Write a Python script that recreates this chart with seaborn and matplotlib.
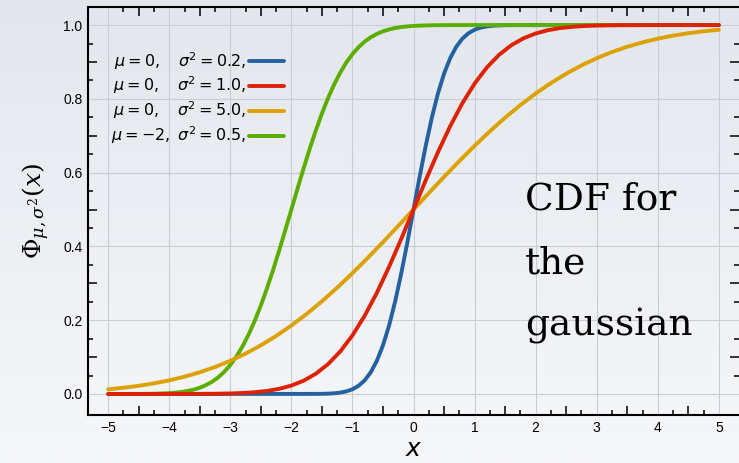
import numpy as np
import pandas as pd
import matplotlib
matplotlib.use("Agg")
import matplotlib.pyplot as plt
from matplotlib.colors import LinearSegmentedColormap
from matplotlib.lines import Line2D
import seaborn as sns

# ------------------------------------------------------------------
# values
# ------------------------------------------------------------------
# mu=0, sigma^2=0.2
x_blue = [-5.0, -1.6, -1.5, -1.4, -1.3, -1.2, -1.1, -1.0, -0.9, -0.8, -0.7, -0.6,
          -0.5, -0.4, -0.3, -0.2, -0.1, 0.0, 0.1, 0.2, 0.3, 0.4, 0.5, 0.6, 0.7,
          0.8, 0.9, 1.0, 1.1, 1.2, 1.3, 1.4, 1.5, 1.6, 5.0]
y_blue = [0.0, 0.0002, 0.0004, 0.0009, 0.0018, 0.0036, 0.0070, 0.0127, 0.0221,
          0.0368, 0.0588, 0.0899, 0.1318, 0.1855, 0.2511, 0.3274, 0.4115, 0.5,
          0.5885, 0.6726, 0.7489, 0.8145, 0.8682, 0.9101, 0.9412, 0.9632, 0.9779,
          0.9873, 0.9930, 0.9964, 0.9982, 0.9991, 0.9996, 0.9998, 1.0]

# mu=0, sigma^2=1.0
x_red = [-5.0, -4.0, -3.6, -3.4, -3.2, -3.0, -2.8, -2.6, -2.4, -2.2, -2.0, -1.8,
         -1.6, -1.4, -1.2, -1.0, -0.8, -0.6, -0.4, -0.2, 0.0, 0.2, 0.4, 0.6, 0.8,
         1.0, 1.2, 1.4, 1.6, 1.8, 2.0, 2.2, 2.4, 2.6, 2.8, 3.0, 3.2, 3.4, 3.6,
         4.0, 5.0]
y_red = [0.0, 0.0, 0.0002, 0.0003, 0.0007, 0.0013, 0.0026, 0.0047, 0.0082, 0.0139,
         0.0228, 0.0359, 0.0548, 0.0808, 0.1151, 0.1587, 0.2119, 0.2743, 0.3446,
         0.4207, 0.5, 0.5793, 0.6554, 0.7257, 0.7881, 0.8413, 0.8849, 0.9192,
         0.9452, 0.9641, 0.9772, 0.9861, 0.9918, 0.9953, 0.9974, 0.9987, 0.9993,
         0.9997, 0.9998, 1.0, 1.0]

# mu=0, sigma^2=5.0
x_orange = [-5.0, -4.75, -4.5, -4.25, -4.0, -3.75, -3.5, -3.25, -3.0, -2.75, -2.5,
            -2.25, -2.0, -1.75, -1.5, -1.25, -1.0, -0.75, -0.5, -0.25, 0.0, 0.25,
            0.5, 0.75, 1.0, 1.25, 1.5, 1.75, 2.0, 2.25, 2.5, 2.75, 3.0, 3.25, 3.5,
            3.75, 4.0, 4.25, 4.5, 4.75, 5.0]
y_orange = [0.0127, 0.0168, 0.0221, 0.0287, 0.0368, 0.0468, 0.0588, 0.0730, 0.0899,
            0.1094, 0.1318, 0.1572, 0.1855, 0.2169, 0.2511, 0.2880, 0.3274, 0.3687,
            0.4115, 0.4556, 0.5, 0.5444, 0.5885, 0.6313, 0.6726, 0.7120, 0.7489,
            0.7831, 0.8145, 0.8428, 0.8682, 0.8906, 0.9101, 0.9270, 0.9412, 0.9532,
            0.9632, 0.9713, 0.9779, 0.9832, 0.9873]

# mu=-2, sigma^2=0.5
x_green = [-5.0, -4.6, -4.4, -4.2, -4.0, -3.9, -3.8, -3.7, -3.6, -3.5, -3.4, -3.3,
           -3.2, -3.1, -3.0, -2.9, -2.8, -2.7, -2.6, -2.5, -2.4, -2.3, -2.2, -2.1,
           -2.0, -1.9, -1.8, -1.7, -1.6, -1.5, -1.4, -1.3, -1.2, -1.1, -1.0, -0.9,
           -0.8, -0.7, -0.6, -0.5, -0.4, -0.3, -0.2, -0.1, 0.0, 0.2, 0.4, 0.6,
           1.0, 5.0]
y_green = [0.0, 0.0001, 0.0003, 0.0009, 0.0023, 0.0036, 0.0054, 0.0081, 0.0118,
           0.0169, 0.0239, 0.0330, 0.0449, 0.0599, 0.0787, 0.1015, 0.1289, 0.1611,
           0.1981, 0.2398, 0.2859, 0.3357, 0.3887, 0.4438, 0.5, 0.5562, 0.6113,
           0.6643, 0.7141, 0.7602, 0.8019, 0.8389, 0.8711, 0.8985, 0.9213, 0.9401,
           0.9551, 0.9670, 0.9761, 0.9831, 0.9882, 0.9919, 0.9946, 0.9964, 0.9977,
           0.9991, 0.9997, 0.9999, 1.0, 1.0]

legend_labels = [r"$\mu = 0,\quad \sigma^2 = 0.2,$",
                 r"$\mu = 0,\quad \sigma^2 = 1.0,$",
                 r"$\mu = 0,\quad \sigma^2 = 5.0,$",
                 r"$\mu = -2,\;\sigma^2 = 0.5,$"]

x_tick_pos = [-5.0, -4.5, -4.0, -3.5, -3.0, -2.5, -2.0, -1.5, -1.0, -0.5, 0.0,
              0.5, 1.0, 1.5, 2.0, 2.5, 3.0, 3.5, 4.0, 4.5, 5.0]
x_tick_labels = ["\u22125", "", "\u22124", "", "\u22123", "", "\u22122", "", "\u22121", "",
                 "0", "", "1", "", "2", "", "3", "", "4", "", "5"]
y_tick_pos = [0.0, 0.1, 0.2, 0.3, 0.4, 0.5, 0.6, 0.7, 0.8, 0.9, 1.0]
y_tick_labels = ["0.0", "", "0.2", "", "0.4", "", "0.6", "", "0.8", "", "1.0"]

colors = {"blue": "#2361a0", "red": "#de2206", "orange": "#dca104", "green": "#5bae00"}

# ------------------------------------------------------------------
# build long table
# ------------------------------------------------------------------
df = pd.concat([
    pd.DataFrame({"x": x_blue, "y": y_blue, "curve": "blue"}),
    pd.DataFrame({"x": x_red, "y": y_red, "curve": "red"}),
    pd.DataFrame({"x": x_orange, "y": y_orange, "curve": "orange"}),
    pd.DataFrame({"x": x_green, "y": y_green, "curve": "green"}),
], ignore_index=True)

sns.set_theme(style="ticks")
plt.rcParams["font.family"] = ["Liberation Sans", "DejaVu Sans"]
plt.rcParams["mathtext.fontset"] = "dejavusans"
plt.rcParams["axes.unicode_minus"] = True
for key in ["text.color", "axes.labelcolor", "xtick.color", "ytick.color",
            "xtick.labelcolor", "ytick.labelcolor"]:
    plt.rcParams[key] = "black"

fig = plt.figure(figsize=(7.39, 4.63), dpi=100)

# pale background wash
bg = fig.add_axes([0, 0, 1, 1], zorder=-10)
cmap = LinearSegmentedColormap.from_list("wash", ["#e3e7ed", "#f6f7f9"])
bg.imshow(np.linspace(0, 1, 256).reshape(-1, 1), aspect="auto", cmap=cmap,
          extent=[0, 1, 0, 1], origin="upper")
bg.axis("off")

ax = fig.add_axes([0.1191, 0.1037, 0.8809, 0.8812])
ax.set_facecolor("none")

# grid (integers / 0.2 steps only)
for gx in [-5, -4, -3, -2, -1, 0, 1, 2, 3, 4, 5]:
    ax.axvline(gx, color="#c9cdd4", lw=0.8, zorder=0.5)
for gy in [0.0, 0.2, 0.4, 0.6, 0.8, 1.0]:
    ax.axhline(gy, color="#c9cdd4", lw=0.8, zorder=0.5)

sns.lineplot(data=df, x="x", y="y", hue="curve",
             hue_order=["blue", "green", "orange", "red"],
             palette=colors, linewidth=2.8, estimator=None, legend=False, ax=ax)

handles = [Line2D([0], [0], color=colors[c], lw=2.8) for c in ["blue", "red", "orange", "green"]]
ax.legend(handles, legend_labels, loc="upper left", bbox_to_anchor=(0.035, 0.895),
          frameon=False, markerfirst=False, handlelength=2.2, handletextpad=0.2,
          labelspacing=0.2, borderpad=0, borderaxespad=0, fontsize=11.5)

ax.set_xlim(-5.33, 5.33)
ax.set_ylim(-0.057, 1.049)

ax.set_xticks(x_tick_pos, x_tick_labels)
ax.set_xticks([-4.75, -4.25, -3.75, -3.25, -2.75, -2.25, -1.75, -1.25, -0.75, -0.25,
               0.25, 0.75, 1.25, 1.75, 2.25, 2.75, 3.25, 3.75, 4.25, 4.75], minor=True)
ax.set_yticks(y_tick_pos, y_tick_labels)
ax.set_yticks([0.05, 0.15, 0.25, 0.35, 0.45, 0.55, 0.65, 0.75, 0.85, 0.95], minor=True)

ax.tick_params(which="both", direction="in", width=1.1, color="black",
               top=True, bottom=True, left=True, right=True)
ax.tick_params(which="major", length=6.5, labelsize=10, pad=4, labelcolor="black")
ax.tick_params(which="minor", length=3.6)

for t, v in zip(ax.xaxis.get_major_ticks(), x_tick_pos):
    if float(v).is_integer():
        t.tick1line.set_visible(False)
        t.tick2line.set_visible(False)
for t, v in zip(ax.yaxis.get_major_ticks(), y_tick_pos):
    if round(v * 10) % 2 == 0:
        t.tick1line.set_visible(False)
        t.tick2line.set_visible(False)

for side in ["left", "bottom", "top"]:
    ax.spines[side].set_linewidth(1.5)
    ax.spines[side].set_color("black")
ax.spines["right"].set_visible(False)

ax.set_xlabel(r"$x$", fontsize=18, labelpad=2, color="black")
ax.set_ylabel(r"$\Phi_{\mu,\sigma^2}(x)$", fontsize=18, math_fontfamily="dejavuserif",
              labelpad=8, color="black")

for txt, yy in [("CDF for", 0.5025), ("the", 0.348), ("gaussian", 0.196)]:
    ax.text(0.671, yy, txt, transform=ax.transAxes, fontfamily="DejaVu Serif",
            fontsize=27, va="baseline", ha="left", color="black")

fig.savefig("out.png", dpi=100)
